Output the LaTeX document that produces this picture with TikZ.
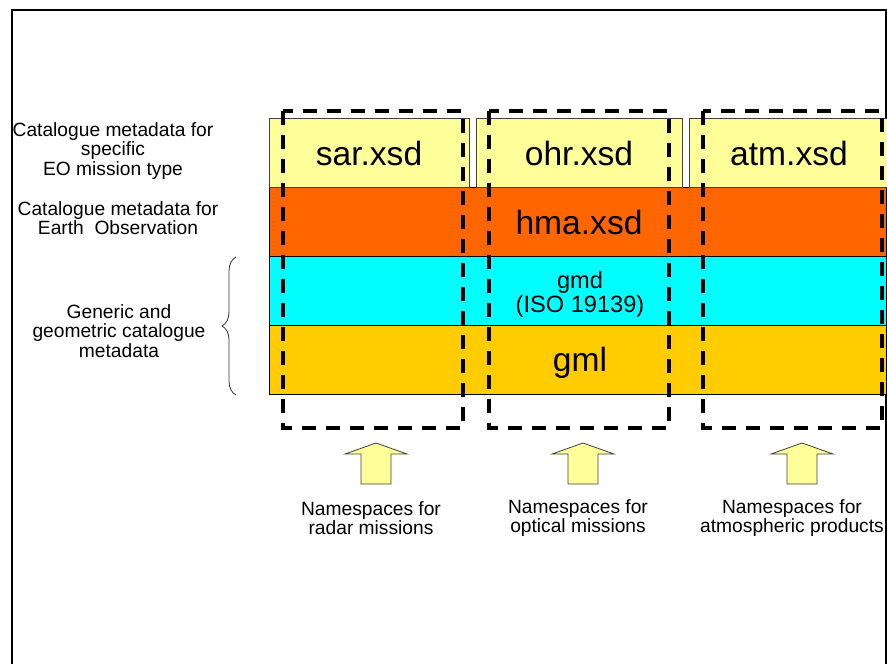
\documentclass[tikz,border=0pt]{standalone}
\usepackage{fontspec}
\setmainfont{Liberation Sans}
\usetikzlibrary{decorations.pathreplacing}
\definecolor{paleyellow}{HTML}{FFFF99}
\definecolor{hmaorange}{HTML}{FF6600}
\definecolor{gmdcyan}{HTML}{00FFFF}
\definecolor{gmlgold}{HTML}{FFCC00}
\tikzset{
    every node/.style={inner sep=0mm, align=center}
}
\tikzset{
    sidetext/.style={font=\fontsize{9.6}{9.6}\selectfont},
    xsdtext/.style={font=\fontsize{16.8}{17}\selectfont},
    gmdtext/.style={font=\fontsize{11.8}{12}\selectfont},
    layer/.style={draw=black, line width=0.4pt},
    nsbox/.style={draw=black, line width=2pt, dash pattern=on 7pt off 5pt},
    uparrow/.style={draw=black!75, fill=paleyellow, line width=0.4pt}
}

\begin{document}
\begin{tikzpicture}[x=0.5pt, y=-0.5pt]
  \useasboundingbox (0,0) rectangle (887,663);
  \clip (0,0) rectangle (887,663);
  \draw [line width=1.1pt] (12,680) -- (12,10) -- (886,10) -- (886,680);

  \filldraw [layer, fill=hmaorange] (269,187) rectangle (886,256);
  \filldraw [layer, fill=gmdcyan] (269,256) rectangle (886,325);
  \filldraw [layer, fill=gmlgold] (269,325) rectangle (886,394);
  \filldraw [layer, draw=black!75, fill=paleyellow] (269,118) rectangle (469,187);
  \filldraw [layer, draw=black!75, fill=paleyellow] (476,118) rectangle (682,187);
  \filldraw [layer, draw=black!75, fill=paleyellow] (689,118) rectangle (890,187);

  \draw [nsbox] (283,111) rectangle (463,428);
    \draw [nsbox] (489,111) rectangle (669,428);
  \draw [nsbox] (703,111) rectangle (882,428);

  \filldraw [uparrow] (345,454) -- (376,443) -- (407,454) -- (391,454) -- (391,484) -- (361,484) -- (361,454) -- cycle;
  \filldraw [uparrow] (552,454) -- (583,443) -- (614,454) -- (598,454) -- (598,484) -- (568,484) -- (568,454) -- cycle;
  \filldraw [uparrow] (771,454) -- (802,443) -- (833,454) -- (817,454) -- (817,484) -- (787,484) -- (787,454) -- cycle;

  \draw [black!80, line width=0.4pt, decorate, decoration={brace, amplitude=7pt}] (236,395) -- (236,257);

  \node (sar) [xsdtext] at (369,153) {sar.xsd};
  \node (ohr) [xsdtext] at (579,153) {ohr.xsd};
  \node (atm) [xsdtext] at (789,153) {atm.xsd};
  \node (hma) [xsdtext] at (579,222) {hma.xsd};
  \node (gmd) [gmdtext] at (580,294) {gmd\\(ISO 19139)};
  \node (gml) [xsdtext] at (580,363) {gml};

  \node (specific) [sidetext] at (113,151) {Catalogue metadata for\\specific\\EO mission type};
  \node (earthobs) [sidetext] at (118,218) {Catalogue metadata for\\Earth\ \ Observation};
    \node (generic) [sidetext] at (119,331) {Generic and\\geometric catalogue\\metadata};

  \node (radar) [sidetext] at (371,518) {Namespaces for\\radar missions};
  \node (optical) [sidetext] at (578,518) {Namespaces for\\optical missions};
  \node (atmos) [sidetext] at (792,518) {Namespaces for\\atmospheric products};
\end{tikzpicture}
\end{document}
